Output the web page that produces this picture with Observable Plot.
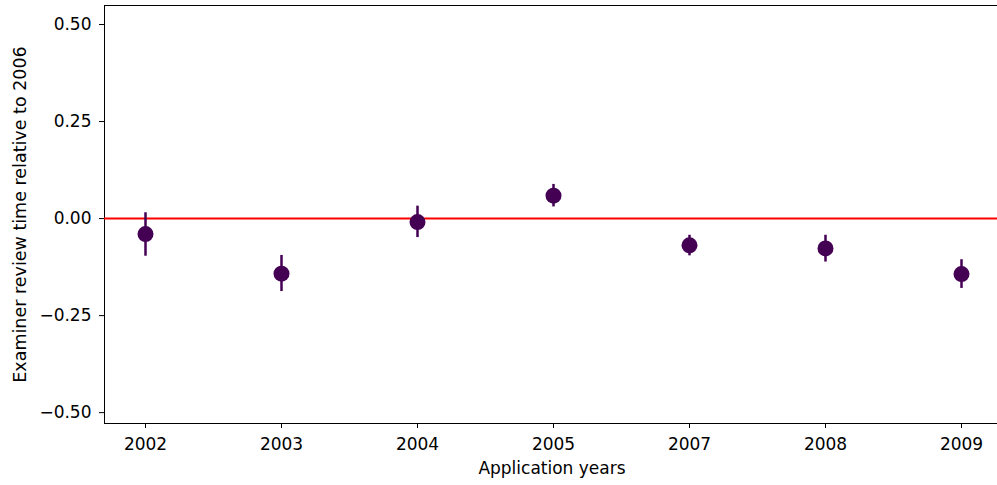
<!DOCTYPE html>
<html>
<head>
<meta charset="utf-8">
<script src="https://cdn.jsdelivr.net/npm/d3@7"></script>
<script src="https://cdn.jsdelivr.net/npm/@observablehq/plot@0.6"></script>
<style>
  html, body { margin: 0; padding: 0; background: #fff; }
  svg { display: block; }
</style>
</head>
<body>
<div id="chart"></div>
<script>
const years = ["2002", "2003", "2004", "2005", "2007", "2008", "2009"];
const estimates = [-0.040, -0.142, -0.009, 0.059, -0.069, -0.077, -0.143];
const lower = [-0.097, -0.188, -0.049, 0.030, -0.096, -0.112, -0.180];
const upper = [0.015, -0.095, 0.032, 0.088, -0.043, -0.043, -0.106];
const yTicks = [-0.5, -0.25, 0, 0.25, 0.5];

const data = years.map((y, i) => ({year: y, est: estimates[i], lo: lower[i], hi: upper[i]}));

const chart = Plot.plot({
  width: 997,
  height: 485,
  marginTop: 5,
  marginBottom: 62,
  marginLeft: 104,
  marginRight: -2,
  style: {fontFamily: "DejaVu Sans", fontSize: "17px", color: "#000", background: "#fff"},
  x: {type: "point", domain: years, range: [145, 961], padding: 0, label: null},
  y: {domain: [-0.528, 0.549], label: null},
  marks: [
    Plot.frame({stroke: "#000", strokeWidth: 1}),
    Plot.axisY({ticks: yTicks, tickFormat: d3.format(".2f"), tickSize: 5, tickPadding: 8, fontSize: 17, label: null}),
    Plot.axisX({tickSize: 5, tickPadding: 9, fontSize: 17, label: null}),
    Plot.ruleY([0], {stroke: "#ff0000", strokeWidth: 2}),
    Plot.ruleX(data, {x: "year", y1: "lo", y2: "hi", stroke: "#440154", strokeWidth: 2.5}),
    Plot.dot(data, {x: "year", y: "est", r: 8, fill: "#440154", stroke: "none"}),
    Plot.text(["Application years"], {frameAnchor: "bottom", dy: 50, fontSize: 17, fill: "#000", textAnchor: "middle"}),
    Plot.text(["Examiner review time relative to 2006"], {frameAnchor: "left", dx: -84, rotate: -90, textAnchor: "middle", fontSize: 17.5, fill: "#000"})
  ]
});
document.getElementById("chart").appendChild(chart);
</script>
</body>
</html>
